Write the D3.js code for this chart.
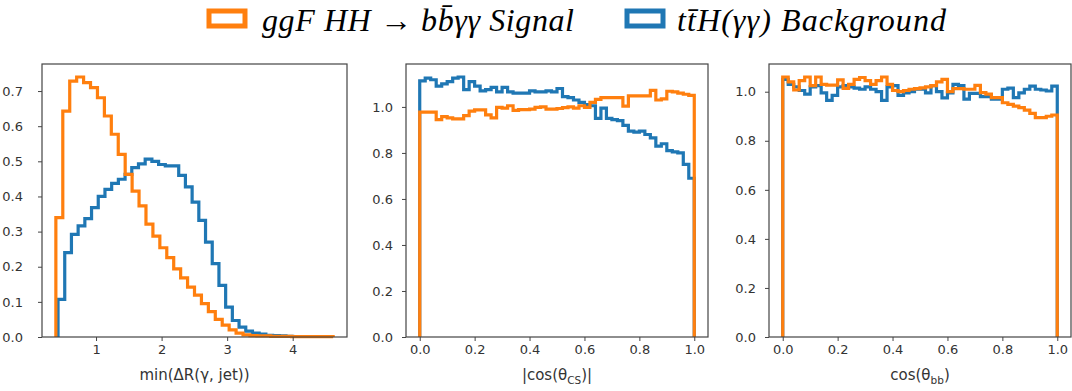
<!DOCTYPE html>
<html>
<head>
<meta charset="utf-8">
<script src="https://cdn.jsdelivr.net/npm/d3@7"></script>
<style>
  body { margin: 0; background: #fff; }
  .tick text { font-family: "DejaVu Sans", sans-serif; font-size: 13px; fill: #333; }
  .tick line { stroke: #444; }
</style>
</head>
<body>
<div id="chart"></div>
<script>
// legend entries
const seriesNames = ['ggF HH \u2192 bb\u0304\u03b3\u03b3 Signal', 'tt\u0304H(\u03b3\u03b3) Background'];
const seriesColors = ['#ff7f0e', '#1f77b4'];

// panel 1: min(dR(gamma, jet)) -- bin range + density values
const drSignalRange = [0.387, 4.617];
const drSignal = [0.34, 0.643, 0.728, 0.740, 0.724, 0.71, 0.681, 0.629, 0.577, 0.52,
  0.463, 0.415, 0.373, 0.321, 0.287, 0.254, 0.226, 0.194, 0.168, 0.142,
  0.119, 0.095, 0.072, 0.05, 0.034, 0.02, 0.011, 0.006, 0.004, 0.003,
  0.003, 0.002, 0.002, 0.002, 0.001, 0.001, 0.001, 0.001, 0.001, 0.001];
const drBackgroundRange = [0.42, 4.0];
const drBackground = [0.107, 0.24, 0.292, 0.316, 0.337, 0.368, 0.40, 0.42, 0.437, 0.449,
  0.463, 0.482, 0.493, 0.506, 0.50, 0.491, 0.487, 0.487, 0.46, 0.427,
  0.384, 0.332, 0.27, 0.209, 0.147, 0.085, 0.047, 0.028, 0.017, 0.011,
  0.008, 0.005, 0.004, 0.003, 0.002];

// panel 2: |cos(theta_CS)|
const csRange = [0, 1];
const csSignal = [0.977, 0.977, 0.977, 0.945, 0.958, 0.952, 0.948, 0.948, 0.962, 0.982,
  0.987, 0.987, 0.965, 0.952, 0.998, 0.995, 1.005, 0.985, 0.988, 0.988,
  0.99, 0.998, 1.0, 0.99, 0.99, 0.993, 0.997, 1.0, 0.995, 1.005,
  0.998, 1.02, 1.033, 1.04, 1.04, 1.04, 1.04, 1.003, 1.048, 1.048,
  1.048, 1.048, 1.072, 1.03, 1.035, 1.068, 1.065, 1.06, 1.055, 1.05];
const csBackground = [1.113, 1.125, 1.118, 1.09, 1.10, 1.11, 1.125, 1.13, 1.075, 1.11,
  1.09, 1.07, 1.075, 1.085, 1.065, 1.085, 1.065, 1.06, 1.06, 1.06,
  1.07, 1.065, 1.065, 1.07, 1.065, 1.08, 1.045, 1.04, 1.03, 1.02,
  1.01, 1.005, 0.95, 0.995, 0.95, 0.945, 0.94, 0.92, 0.895, 0.89,
  0.895, 0.88, 0.865, 0.83, 0.84, 0.81, 0.805, 0.80, 0.75, 0.69];

// panel 3: cos(theta_bb)
const bbRange = [0, 1];
const bbSignal = [1.06, 1.04, 1.007, 1.045, 1.06, 1.025, 1.06, 1.03, 1.027, 1.027,
  1.048, 1.014, 1.03, 1.05, 1.058, 1.045, 1.03, 1.045, 1.06, 1.03,
  1.005, 1.0, 1.005, 1.01, 1.013, 1.016, 1.02, 1.025, 1.04, 1.05,
  1.0, 1.013, 1.013, 1.01, 1.01, 1.026, 0.996, 0.99, 0.976, 0.976,
  0.955, 0.948, 0.941, 0.935, 0.925, 0.912, 0.894, 0.894, 0.9, 0.905];
const bbBackground = [1.05, 1.03, 1.02, 1.005, 0.99, 1.02, 1.025, 0.995, 0.965, 0.985,
  1.02, 1.025, 1.02, 1.015, 1.01, 1.02, 1.01, 1.0, 0.965, 1.02,
  1.025, 0.985, 0.995, 1.0, 1.01, 1.01, 0.995, 1.025, 1.0, 0.975,
  0.995, 1.03, 1.025, 0.97, 0.993, 0.993, 0.98, 0.98, 0.97, 0.97,
  1.01, 1.015, 0.976, 0.995, 1.01, 1.023, 1.01, 1.007, 1.003, 1.023];

// tick values
const drTicksX = [1, 2, 3, 4];
const drTicksY = [0, 0.1, 0.2, 0.3, 0.4, 0.5, 0.6, 0.7];
const cosTicksX = [0, 0.2, 0.4, 0.6, 0.8, 1.0];
const cosTicksY = [0, 0.2, 0.4, 0.6, 0.8, 1.0];

const panels = [
  { left: 42, right: 347, labelPad: 15, xTicks: drTicksX, yTicks: drTicksY, xFormat: d3.format('d'),
    label: ['min(\u0394R(\u03b3, jet))'],
    hists: [{ range: drBackgroundRange, values: drBackground, color: seriesColors[1] },
            { range: drSignalRange, values: drSignal, color: seriesColors[0] }] },
  { left: 406, right: 708, labelPad: 9, xTicks: cosTicksX, yTicks: cosTicksY, xFormat: d3.format('.1f'),
    label: ['|cos(\u03b8', 'CS', ')|'],
    hists: [{ range: csRange, values: csBackground, color: seriesColors[1] },
            { range: csRange, values: csSignal, color: seriesColors[0] }] },
  { left: 769, right: 1071, labelPad: 9, xTicks: cosTicksX, yTicks: cosTicksY, xFormat: d3.format('.1f'),
    label: ['cos(\u03b8', 'bb', ')'],
    hists: [{ range: bbRange, values: bbBackground, color: seriesColors[1] },
            { range: bbRange, values: bbSignal, color: seriesColors[0] }] }
];

const width = 1072, height = 391;
const plotTop = 64, plotBottom = 337;

const svg = d3.select('#chart').append('svg')
    .attr('width', width)
    .attr('height', height);

// legend
const legend = [
  { x: 209, textX: 262, len: 312, name: seriesNames[0], color: seriesColors[0] },
  { x: 627, textX: 677, len: 269, name: seriesNames[1], color: seriesColors[1] }
];
const lg = svg.append('g').selectAll('g').data(legend).join('g');
lg.append('rect')
    .attr('x', d => d.x).attr('y', 11)
    .attr('width', 36).attr('height', 15)
    .attr('fill', 'none')
    .attr('stroke', d => d.color)
    .attr('stroke-width', 5);
lg.append('text')
    .attr('x', d => d.textX).attr('y', 31)
    .attr('font-family', '"Liberation Serif", serif')
    .attr('font-style', 'italic')
    .attr('font-size', 32)
    .attr('textLength', d => d.len)
    .attr('lengthAdjust', 'spacing')
    .attr('fill', '#000')
    .text(d => d.name);

// turn values + range into step outline points
function stepPoints(h) {
  const n = h.values.length;
  const w = (h.range[1] - h.range[0]) / n;
  const pts = [[h.range[0], 0]];
  h.values.forEach((v, i) => {
    pts.push([h.range[0] + i * w, v]);
    pts.push([h.range[0] + (i + 1) * w, v]);
  });
  pts.push([h.range[1], 0]);
  return pts;
}

panels.forEach(p => {
  const lo = d3.min(p.hists, h => h.range[0]);
  const hi = d3.max(p.hists, h => h.range[1]);
  const pad = (hi - lo) * 0.05;
  const ymax = d3.max(p.hists, h => d3.max(h.values)) * 1.05;

  const x = d3.scaleLinear().domain([lo - pad, hi + pad]).range([p.left, p.right]);
  const y = d3.scaleLinear().domain([0, ymax]).range([plotBottom, plotTop]);

  const g = svg.append('g');

  const line = d3.line().x(d => x(d[0])).y(d => y(d[1]));
  g.selectAll('path.hist')
    .data(p.hists)
    .join('path')
      .attr('class', 'hist')
      .attr('d', d => line(stepPoints(d)))
      .attr('fill', 'none')
      .attr('stroke', d => d.color)
      .attr('stroke-width', 3.2)
      .attr('stroke-linejoin', 'miter');

  const xAxis = g.append('g')
      .attr('transform', `translate(0,${plotBottom})`)
      .call(d3.axisBottom(x).tickValues(p.xTicks).tickFormat(p.xFormat).tickSize(4).tickPadding(4));
  const yAxis = g.append('g')
      .attr('transform', `translate(${p.left},0)`)
      .call(d3.axisLeft(y).tickValues(p.yTicks).tickFormat(d3.format('.1f')).tickSize(4).tickPadding(p.labelPad));
  xAxis.select('.domain').remove();
  yAxis.select('.domain').remove();

  // frame
  g.append('rect')
      .attr('x', p.left).attr('y', plotTop)
      .attr('width', p.right - p.left).attr('height', plotBottom - plotTop)
      .attr('fill', 'none')
      .attr('stroke', '#444')
      .attr('stroke-width', 1.2);

  // x label
  const lab = g.append('text')
      .attr('x', (p.left + p.right) / 2)
      .attr('y', 380)
      .attr('text-anchor', 'middle')
      .attr('font-family', '"DejaVu Sans", sans-serif')
      .attr('font-size', 15)
      .attr('fill', '#333');
  lab.append('tspan').text(p.label[0]);
  if (p.label.length > 1) {
    lab.append('tspan').attr('font-size', 10.5).attr('dy', 3.5).text(p.label[1]);
    lab.append('tspan').attr('dy', -3.5).text(p.label[2]);
  }
});
</script>
</body>
</html>
